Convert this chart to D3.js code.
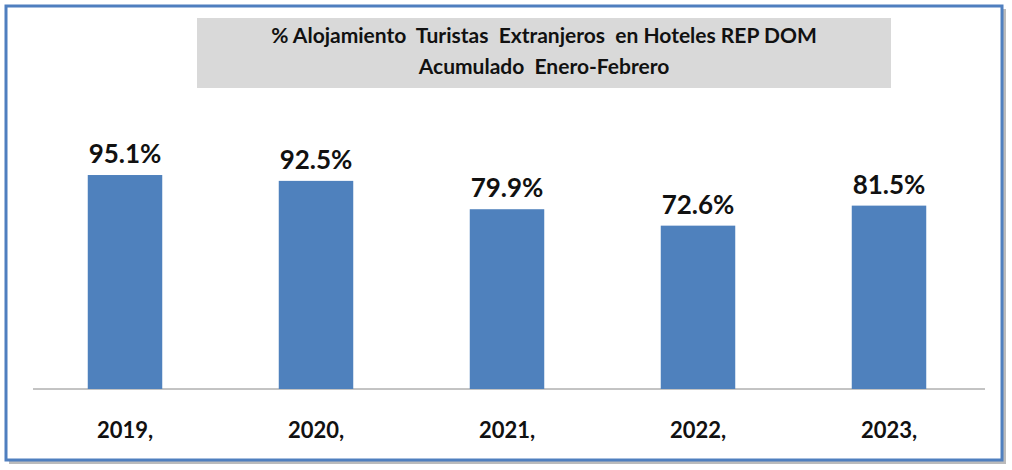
<!DOCTYPE html>
<html><head><meta charset="utf-8">
<script src="https://cdn.jsdelivr.net/npm/d3@7"></script>
<style>body{margin:0;background:#fff}</style>
</head><body><div id="chart"></div>
<script>
const years = ["2019,", "2020,", "2021,", "2022,", "2023,"];
const values = [95.1, 92.5, 79.9, 72.6, 81.5];
const titleLines = ["% Alojamiento  Turistas  Extranjeros  en Hoteles REP DOM", "Acumulado  Enero-Febrero"];

const W = 1012, H = 470;
const svg = d3.select("#chart").append("svg").attr("width", W).attr("height", H)
  .style("font-family", "Lato, 'Open Sans', sans-serif");

// Frame with shadow
svg.append("rect").attr("x", 9).attr("y", 9).attr("width", 997).attr("height", 455).attr("fill", "#bbb");
svg.append("rect").attr("x", 6).attr("y", 6).attr("width", 996).attr("height", 454)
  .attr("fill", "#fff").attr("stroke", "#4f7fbf").attr("stroke-width", 3);

// Title box
svg.append("rect").attr("x", 197).attr("y", 18).attr("width", 694).attr("height", 70).attr("fill", "#d9d9d9");
svg.selectAll(".title").data(titleLines).join("text")
  .attr("x", 544).attr("y", (d, i) => 43 + i * 31)
  .attr("text-anchor", "middle").attr("font-size", 21).attr("font-weight", "bold").attr("fill", "#111")
  .attr("xml:space", "preserve").text(d => d);

const x = d3.scaleBand().domain(years).range([29.5, 984.5]).paddingInner(0.61).paddingOuter(0.305);
const y = d3.scaleLinear().domain([0, 100]).range([389, 164]);

svg.append("line").attr("x1", 33).attr("x2", 985).attr("y1", y(0)).attr("y2", y(0))
  .attr("stroke", "#888").attr("stroke-width", 1);

svg.selectAll(".bar").data(values).join("rect")
  .attr("x", (d, i) => x(years[i])).attr("width", x.bandwidth())
  .attr("y", d => y(d)).attr("height", d => y(0) - y(d)).attr("fill", "#4f81bd");

svg.selectAll(".val").data(values).join("text")
  .attr("x", (d, i) => x(years[i]) + x.bandwidth() / 2).attr("y", d => y(d) - 12)
  .attr("text-anchor", "middle").attr("font-size", 26).attr("font-weight", "bold").attr("fill", "#111")
  .text(d => d.toFixed(1) + "%");

svg.selectAll(".yr").data(years).join("text")
  .attr("x", d => x(d) + x.bandwidth() / 2).attr("y", 438)
  .attr("text-anchor", "middle").attr("font-size", 22).attr("font-weight", "bold").attr("fill", "#111")
  .text(d => d);
</script></body></html>
